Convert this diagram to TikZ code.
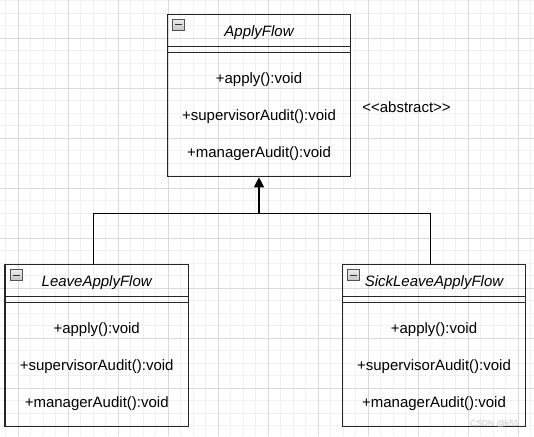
\documentclass[tikz,border=0pt]{standalone}
\usepackage{fontspec}
\setmainfont{Liberation Sans}
\usetikzlibrary{arrows.meta,positioning}

\definecolor{gridmajor}{HTML}{DADADA}
\definecolor{gridminor}{HTML}{F1F1F1}

\begin{document}
\begin{tikzpicture}[x=1pt,y=-1pt,
    classbox/.style={draw=black!85,line width=1.1pt,minimum width=183.5pt,minimum height=162.5pt,inner sep=0pt},
    classname/.style={font=\fontsize{15}{18}\selectfont\itshape},
    method/.style={font=\fontsize{15}{18}\selectfont},
    minusbox/.style={draw=gray!65!black,line width=0.6pt,top color=gray!15,bottom color=gray!45,minimum width=11.5pt,minimum height=10.5pt,inner sep=0pt},
    sep/.style={draw=black!85,line width=1.1pt},
    link/.style={draw=black,line width=1.2pt}]
    \useasboundingbox (0,0) rectangle (534,436);

    % grid
    \foreach \i in {0,...,42}
        \draw[gridminor,line width=0.8pt] (5.8+12.5*\i,0) -- (5.8+12.5*\i,436);
    \foreach \i in {0,...,34}
        \draw[gridminor,line width=0.8pt] (0,0.8+12.5*\i) -- (534,0.8+12.5*\i);
    \foreach \i in {0,...,10}
        \draw[gridmajor,line width=0.8pt] (18.3+50*\i,0) -- (18.3+50*\i,436);
    \foreach \i in {0,...,7}
        \draw[gridmajor,line width=0.8pt] (0,38.3+50*\i) -- (534,38.3+50*\i);

    % classes
    \foreach \n/\cx/\cy/\t in {apply/259/95.5/ApplyFlow,
                               leave/96.7/345.5/LeaveApplyFlow,
                               sick/434/345.5/SickLeaveApplyFlow} {
        \node[classbox] (\n) at (\cx,\cy) {};
        \node[classname] (\n-name) at ([yshift=-18.5pt]\n.north) {\t};
        \node[minusbox] (\n-minus) at ([xshift=11.8pt,yshift=-11.3pt]\n.north west) {};
        \draw[black!80,line width=1pt] ([xshift=-3.5pt]\n-minus.center) -- ([xshift=3.5pt]\n-minus.center);
        \draw[sep] ([yshift=-32.4pt]\n.north west) -- ([yshift=-32.4pt]\n.north east);
        \draw[sep] ([yshift=-38.4pt]\n.north west) -- ([yshift=-38.4pt]\n.north east);
        \node[method] (\n-apply) at ([yshift=-66pt]\n.north) {+apply():void};
        \node[method] (\n-sup) at ([yshift=-103.3pt]\n.north) {+supervisorAudit():void};
        \node[method] (\n-mgr) at ([yshift=-140pt]\n.north) {+managerAudit():void};
    }

    \node[method] (abs) at (406.5,107.5) {{<}{<}abstract{>}{>}};

    % inheritance
    \coordinate (fork) at (259,213.7);
    \coordinate (lj) at (93.5,213.7);
    \coordinate (rj) at (430.7,213.7);
    \draw[link] (lj |- leave.north) -- (lj) -- (rj) -- (rj |- sick.north);
    \draw[link,-{Triangle[length=10pt,width=10pt]}] (fork) -- (apply.south);

    \node[font=\fontsize{8.5}{10}\selectfont,text=gray!45] (mark) at (494.5,423.5) {CSDN @k55};
\end{tikzpicture}
\end{document}
